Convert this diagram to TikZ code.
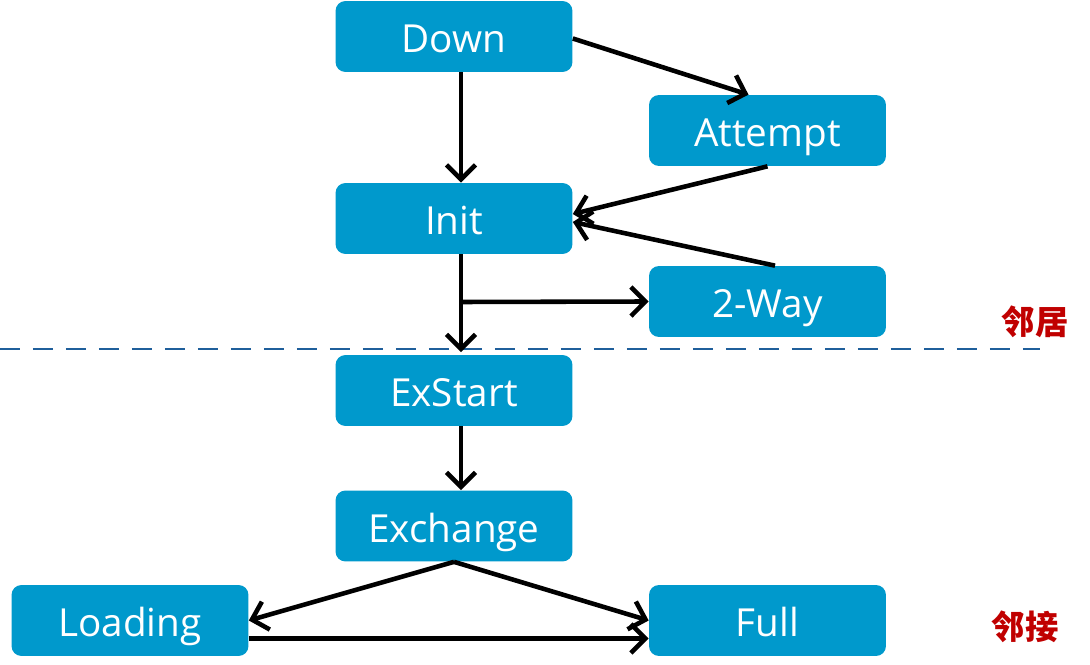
\documentclass[tikz,border=0pt]{standalone}
\usepackage{fontspec}
\setmainfont{Open Sans}
\newfontfamily\cjk{Noto Sans CJK SC}
\usetikzlibrary{arrows.meta}

\definecolor{boxblue}{RGB}{0,153,204}
\definecolor{dashblue}{RGB}{31,95,155}
\definecolor{labelred}{RGB}{192,0,0}

\tikzset{
	state/.style={fill=boxblue,rounded corners=0.2cm,minimum width=4.74cm,minimum height=1.42cm,
		text=white,font=\fontsize{22}{26}\selectfont,text height=18.7pt,text depth=0pt},
	flow/.style={line width=2.6pt,-{Straight Barb[length=2.9mm,width=5.8mm,line width=2.6pt]}},
	side/.style={text=labelred,font=\cjk\bfseries\fontsize{19}{21}\selectfont}
}

\begin{document}
\begin{tikzpicture}[x=0.02cm,y=-0.02cm]
	\useasboundingbox (0,0) rectangle (1090,665);

	\node[state] (down) at (454,36.5) {Down};
	\node[state] (attempt) at (767.5,130.5) {Attempt};
	\node[state] (init) at (454,218.5) {Init};
	\node[state] (twoway) at (767.5,301.5) {2-Way};
	\node[state] (exstart) at (454,390.5) {ExStart};
	\node[state] (exchange) at (454,526) {Exchange};
	\node[state] (loading) at (130,620.5) {Loading};
	\node[state] (full) at (767.5,620.5) {Full};

	\coordinate (branch) at (461,302);

	\draw[dashblue,line width=1.1pt,dash pattern=on 0.4cm off 0.26cm] (0,349) -- (1040,349);
	\node[side] (nbr) at (1035,322) {邻居};
	\node[side] (adj) at (1025,627) {邻接};

	\draw[flow] ([xshift=0.14cm]down.south) -- ([xshift=0.14cm]init.north);
	\draw[flow] ([yshift=-0.04cm]down.east) -- ([xshift=-0.38cm]attempt.north);
	\draw[flow] (attempt.south) -- ([yshift=0.09cm]init.east);
	\draw[flow] ([xshift=0.15cm]twoway.north) -- ([yshift=-0.07cm]init.east);
	\draw[flow] ([xshift=0.14cm]init.south) -- ([xshift=0.14cm,yshift=0.05cm]exstart.north);
	\draw[flow] (branch) -- (twoway.west);
	\draw[flow] ([xshift=0.14cm]exstart.south) -- ([xshift=0.14cm]exchange.north);
	\draw[flow] (exchange.south) -- (loading.east);
	\draw[flow] (exchange.south) -- (full.west);
	\draw[flow] ([yshift=-0.36cm]loading.east) -- ([yshift=-0.36cm]full.west);
\end{tikzpicture}
\end{document}
